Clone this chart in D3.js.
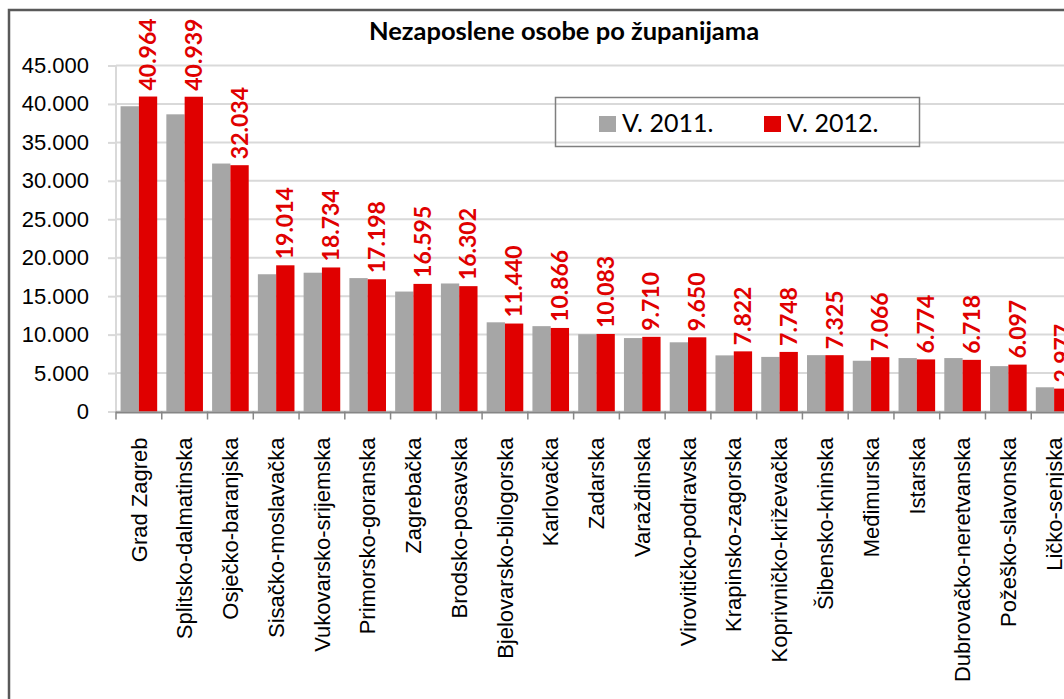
<!DOCTYPE html>
<html>
<head>
<meta charset="utf-8">
<script src="https://cdn.jsdelivr.net/npm/d3@7"></script>
<style>
    body { margin: 0; background: #fff; }
    svg { display: block; }
</style>
</head>
<body>
<svg id="drawing_region"></svg>
<script>
const categories = [
    'Grad Zagreb', 'Splitsko-dalmatinska', 'Osječko-baranjska', 'Sisačko-moslavačka',
    'Vukovarsko-srijemska', 'Primorsko-goranska', 'Zagrebačka', 'Brodsko-posavska',
    'Bjelovarsko-bilogorska', 'Karlovačka', 'Zadarska', 'Varaždinska',
    'Virovitičko-podravska', 'Krapinsko-zagorska', 'Koprivničko-križevačka', 'Šibensko-kninska',
    'Međimurska', 'Istarska', 'Dubrovačko-neretvanska', 'Požeško-slavonska', 'Ličko-senjska'
];
const seriesNames = ['V. 2011.', 'V. 2012.'];
const v2011 = [39700, 38650, 32250, 17850, 18050, 17350, 15600, 16650, 11600, 11100, 10050,
               9550, 9000, 7300, 7100, 7330, 6600, 6950, 6950, 5900, 3150];
const v2012 = [40964, 40939, 32034, 19014, 18734, 17198, 16595, 16302, 11440, 10866, 10083,
               9710, 9650, 7822, 7748, 7325, 7066, 6774, 6718, 6097, 2977];
const yTicks = [0, 5000, 10000, 15000, 20000, 25000, 30000, 35000, 40000, 45000];
const colors = ['#a6a6a6', '#e00000'];

class GroupedBarChart {
    constructor(config) {
        this.config = {
            parentElement: config.parentElement,
            width: config.width || 1064,
            height: config.height || 699,
            margin: config.margin || {top: 65, right: -13, bottom: 288, left: 116}
        };
        this.init();
    }

    init() {
        const {width, height, margin} = this.config;
        this.innerWidth = width - margin.left - margin.right;
        this.innerHeight = height - margin.top - margin.bottom;

        this.root = d3.select(this.config.parentElement)
            .attr('width', width)
            .attr('height', height);

        // chart frame (continues past the picture on the right and bottom)
        this.root.append('rect')
            .attr('x', 9).attr('y', 10)
            .attr('width', 1200).attr('height', 800)
            .attr('fill', 'none')
            .attr('stroke', '#595959')
            .attr('stroke-width', 2.5);

        this.svg = this.root.append('g')
            .attr('transform', `translate(${margin.left}, ${margin.top})`);

        this.x0 = d3.scaleBand().domain(categories).range([0, this.innerWidth]);
        this.x1 = d3.scaleBand().domain(seriesNames)
            .range([0, this.x0.bandwidth()])
            .paddingOuter(0.25);
        this.y = d3.scaleLinear().domain([0, 45000]).range([this.innerHeight, 0]);

        const locale = d3.formatLocale({decimal: ',', thousands: '.', grouping: [3], currency: ['', '']});
        this.fmt = locale.format(',');
    }

    update(rows) {
        this.data = rows;
        this.render();
    }

    render() {
        const {x0, x1, y, fmt} = this;
        const h = this.innerHeight;

        // gridlines
        this.svg.append('g')
            .selectAll('line')
            .data(yTicks)
            .join('line')
            .attr('x1', 0).attr('x2', this.innerWidth)
            .attr('y1', d => y(d)).attr('y2', d => y(d))
            .attr('stroke', '#d9d9d9')
            .attr('stroke-width', 2);

        // y axis
        const yAxis = this.svg.append('g')
            .call(d3.axisLeft(y).tickValues(yTicks).tickFormat(fmt).tickSize(8).tickPadding(19));
        yAxis.select('.domain').remove();
        yAxis.selectAll('line').attr('stroke', '#d9d9d9').attr('stroke-width', 2);
        yAxis.selectAll('text')
            .attr('fill', '#000')
            .style('font-family', '"Liberation Sans", Arial, sans-serif')
            .style('font-size', '22px');
        this.svg.append('line')
            .attr('x1', 0).attr('x2', 0).attr('y1', 0).attr('y2', h)
            .attr('stroke', '#d9d9d9').attr('stroke-width', 2);

        // bars
        const groups = this.svg.append('g')
            .selectAll('g')
            .data(this.data)
            .join('g')
            .attr('transform', d => `translate(${x0(d.category)}, 0)`);

        groups.selectAll('rect')
            .data(d => d.values)
            .join('rect')
            .attr('x', d => x1(d.series))
            .attr('y', d => y(d.value))
            .attr('width', x1.bandwidth())
            .attr('height', d => h - y(d.value))
            .attr('fill', (d, i) => colors[i]);

        // value labels for 2012
        groups.append('text')
            .attr('transform', d => `translate(${x1(seriesNames[1]) + x1.bandwidth() / 2}, ${y(d.values[1].value) - 6}) rotate(-90)`)
            .attr('dy', '0.35em')
            .attr('text-anchor', 'start')
            .attr('fill', '#e00000')
            .style('font-family', 'Lato, sans-serif')
            .style('font-weight', 'bold')
            .style('font-size', '23px')
            .text(d => fmt(d.values[1].value));

        // x axis
        this.svg.append('line')
            .attr('x1', 0).attr('x2', this.innerWidth)
            .attr('y1', h + 1).attr('y2', h + 1)
            .attr('stroke', '#868686').attr('stroke-width', 2);

        this.svg.append('g')
            .selectAll('line')
            .data(categories.concat([null]))
            .join('line')
            .attr('x1', d => d === null ? this.innerWidth : x0(d))
            .attr('x2', d => d === null ? this.innerWidth : x0(d))
            .attr('y1', h).attr('y2', h + 8)
            .attr('stroke', '#868686').attr('stroke-width', 1.5);

        this.svg.append('g')
            .selectAll('text')
            .data(categories)
            .join('text')
            .attr('transform', d => `translate(${x0(d) + x0.bandwidth() / 2}, ${h + 26}) rotate(-90)`)
            .attr('dy', '0.35em')
            .attr('text-anchor', 'end')
            .attr('fill', '#000')
            .style('font-family', '"Liberation Sans", Arial, sans-serif')
            .style('font-size', '22px')
            .text(d => d);

        // title
        this.root.append('text')
            .attr('x', 564).attr('y', 40)
            .attr('text-anchor', 'middle')
            .style('font-family', 'Lato, sans-serif')
            .style('font-weight', 'bold')
            .style('font-size', '25.5px')
            .text('Nezaposlene osobe po županijama');

        // legend (no fill, gridlines show through)
        const legend = this.root.append('g');
        legend.append('rect')
            .attr('x', 555.5).attr('y', 97.5)
            .attr('width', 364).attr('height', 49)
            .attr('fill', 'none')
            .attr('stroke', '#7f7f7f').attr('stroke-width', 1.5);
        const items = legend.selectAll('g')
            .data(seriesNames)
            .join('g')
            .attr('transform', (d, i) => `translate(${599 + i * 165}, 116)`);
        items.append('rect')
            .attr('width', 17).attr('height', 16)
            .attr('fill', (d, i) => colors[i]);
        items.append('text')
            .attr('x', 23).attr('y', 15.5)
            .style('font-family', 'Lato, sans-serif')
            .style('font-size', '25px')
            .text(d => d);
    }
}

const chart = new GroupedBarChart({
    parentElement: '#drawing_region',
    width: 1064,
    height: 699,
    margin: {top: 65.5, right: -13, bottom: 287.5, left: 116}
});

const rows = categories.map((c, i) => ({
    category: c,
    values: [
        {series: seriesNames[0], value: v2011[i]},
        {series: seriesNames[1], value: v2012[i]}
    ]
}));

chart.update(rows);
</script>
</body>
</html>
